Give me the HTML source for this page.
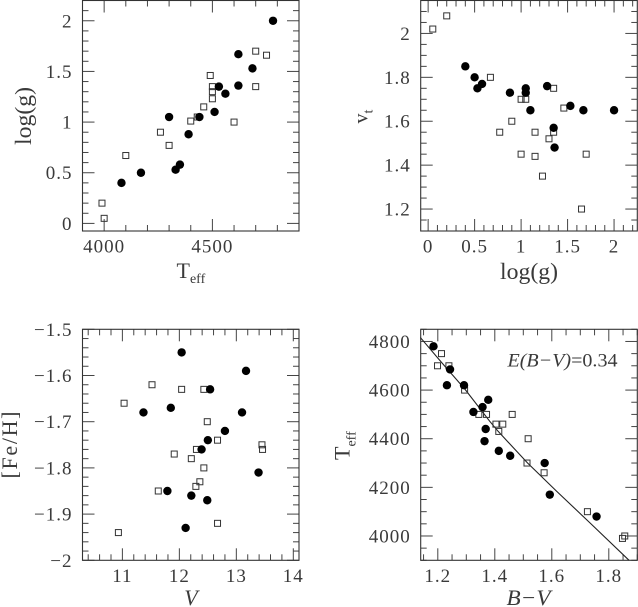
<!DOCTYPE html>
<html lang="en">
<head>
<meta charset="utf-8">
<title>Stellar parameter panels</title>
<style>
html,body{margin:0;padding:0;background:#fff;width:638px;height:607px;overflow:hidden}
svg{display:block;font-family:"Liberation Serif",serif;fill:#3a3a3a}
text{fill:#3a3a3a}
</style>
</head>
<body>
<svg id="figure" xmlns="http://www.w3.org/2000/svg" width="638" height="607" viewBox="0 0 638 607">
  <g id="panel-tl"></g>
  <g id="panel-tr"></g>
  <g id="panel-bl"></g>
  <g id="panel-br"></g>

  <text x="176.5" y="278" font-size="22">T<tspan dy="5" font-size="14">eff</tspan></text>
  <text transform="translate(31,116) rotate(-90)" text-anchor="middle" font-size="23" textLength="58" lengthAdjust="spacingAndGlyphs">log(g)</text>

  <text x="529" y="279" text-anchor="middle" font-size="23" textLength="58" lengthAdjust="spacingAndGlyphs">log(g)</text>
  <text transform="translate(367.7,123.5) rotate(-90)" font-size="20">v<tspan dy="5" font-size="14">t</tspan></text>

  <text x="191" y="605" text-anchor="middle" font-size="22" font-style="italic">V</text>
  <text transform="translate(17,445) rotate(-90)" text-anchor="middle" font-size="22" textLength="67">[Fe/H]</text>

  <text x="528.5" y="605" text-anchor="middle" font-size="22" font-style="italic" textLength="44" lengthAdjust="spacingAndGlyphs">B−V</text>
  <text transform="translate(349.3,460) rotate(-90)" font-size="22">T<tspan dy="6" font-size="14">eff</tspan></text>
  <text x="507.5" y="366.5" font-size="19" textLength="110" lengthAdjust="spacingAndGlyphs"><tspan font-style="italic">E(B−V)</tspan>=0.34</text>
</svg>

<script>
/* ---- Panel 1: Teff vs log(g) ---- */
const tlFilledX = [4080,4170,4330,4350,4390,4300,4440,4510,4530,4560,4620,4620,4685,4780];
const tlFilledY = [0.40,0.50,0.53,0.58,0.88,1.05,1.05,1.10,1.35,1.28,1.36,1.67,1.53,2.00];
const tlOpenX = [3990,4000,4100,4260,4300,4400,4430,4460,4490,4500,4500,4500,4600,4700,4700,4750];
const tlOpenY = [0.20,0.05,0.67,0.90,0.77,1.01,1.05,1.15,1.46,1.35,1.30,1.23,1.00,1.70,1.35,1.66];
const tlXTicks = [4000,4500];
const tlXLabels = ['4000','4500'];
const tlYTicks = [0,0.5,1,1.5,2];
const tlYLabels = ['0','0.5','1','1.5','2'];

/* ---- Panel 2: log(g) vs vt ---- */
const trFilledX = [0.40,0.50,0.53,0.58,0.88,1.05,1.05,1.10,1.28,1.35,1.36,1.53,1.67,2.00];
const trFilledY = [1.85,1.80,1.75,1.77,1.73,1.75,1.73,1.65,1.76,1.57,1.48,1.67,1.65,1.65];
const trOpenX = [0.05,0.20,0.67,0.77,0.90,1.00,1.05,1.00,1.15,1.15,1.23,1.30,1.35,1.35,1.46,1.65,1.70];
const trOpenY = [2.02,2.08,1.80,1.55,1.60,1.70,1.70,1.45,1.55,1.44,1.35,1.52,1.55,1.75,1.66,1.20,1.45];
const trXTicks = [0,0.5,1,1.5,2];
const trXLabels = ['0','0.5','1','1.5','2'];
const trYTicks = [1.2,1.4,1.6,1.8,2];
const trYLabels = ['1.2','1.4','1.6','1.8','2'];

/* ---- Panel 3: V vs [Fe/H] ---- */
const blFilledX = [12.04,13.17,12.54,11.85,11.37,13.10,12.80,12.50,12.39,13.39,11.79,12.21,12.49,12.11];
const blFilledY = [-1.55,-1.59,-1.63,-1.67,-1.68,-1.68,-1.72,-1.74,-1.76,-1.81,-1.85,-1.86,-1.87,-1.93];
const blOpenX = [11.52,12.04,12.43,11.03,12.49,12.67,13.45,13.46,12.30,11.91,12.21,12.43,12.36,12.29,11.63,12.67,10.93];
const blOpenY = [-1.62,-1.63,-1.63,-1.66,-1.70,-1.74,-1.75,-1.76,-1.76,-1.77,-1.78,-1.80,-1.83,-1.84,-1.85,-1.92,-1.94];
const blXTicks = [11,12,13,14];
const blXLabels = ['11','12','13','14'];
const blYTicks = [-2,-1.9,-1.8,-1.7,-1.6,-1.5];
const blYLabels = ['−2','−1.9','−1.8','−1.7','−1.6','−1.5'];

/* ---- Panel 4: B-V vs Teff ---- */
const brFilledX = [1.185,1.243,1.232,1.292,1.377,1.357,1.325,1.368,1.364,1.414,1.454,1.575,1.593,1.757];
const brFilledY = [4780,4685,4620,4620,4560,4530,4510,4440,4390,4350,4330,4300,4170,4080];
const brOpenX = [1.213,1.199,1.239,1.294,1.344,1.371,1.461,1.404,1.428,1.414,1.517,1.513,1.573,1.725,1.856,1.848];
const brOpenY = [4750,4700,4700,4600,4500,4500,4500,4460,4460,4430,4400,4300,4260,4100,4000,3990];
const brCurveX = [1.139,1.213,1.295,1.382,1.412,1.515,1.616,1.733,1.871];
const brCurveY = [4816,4714,4604,4472,4430,4300,4185,4055,3900];
const brXTicks = [1.2,1.4,1.6,1.8];
const brXLabels = ['1.2','1.4','1.6','1.8'];
const brYTicks = [4000,4200,4400,4600,4800];
const brYLabels = ['4000','4200','4400','4600','4800'];

const NS = 'http://www.w3.org/2000/svg';
const COL_LEFT = [82.5, 299];
const COL_RIGHT = [420.7, 637.3];
const ROW_TOP = [0.5, 231];
const ROW_BOTTOM = [329.3, 560.3];
const MAJOR_LEN = 12;
const MINOR_LEN = 6;

function linear(d0, d1, r0, r1) {
  return function (v) { return r0 + (v - d0) * (r1 - r0) / (d1 - d0); };
}

function make(tag, parent, attrs) {
  const el = document.createElementNS(NS, tag);
  Object.keys(attrs).forEach(function (k) { el.setAttribute(k, attrs[k]); });
  parent.appendChild(el);
  return el;
}

function drawPanel(cfg) {
  const g = document.getElementById(cfg.id);
  const sx = linear(cfg.xDomain[0], cfg.xDomain[1], cfg.xRange[0], cfg.xRange[1]);
  const sy = linear(cfg.yDomain[0], cfg.yDomain[1], cfg.yRange[1], cfg.yRange[0]);
  const top = cfg.yRange[0], bottom = cfg.yRange[1], left = cfg.xRange[0], right = cfg.xRange[1];

  function xTick(v, len) {
    const a = make('line', g, { x1: sx(v), x2: sx(v), y1: bottom, y2: bottom - len, stroke: '#444', 'stroke-width': 1 });
    
    
    const b = make('line', g, { x1: sx(v), x2: sx(v), y1: top, y2: top + len, stroke: '#444', 'stroke-width': 1 });
    
    
  }
  function yTick(v, len) {
    const a = make('line', g, { x1: left, x2: left + len, y1: sy(v), y2: sy(v), stroke: '#444', 'stroke-width': 1 });
    
    
    const b = make('line', g, { x1: right, x2: right - len, y1: sy(v), y2: sy(v), stroke: '#444', 'stroke-width': 1 });
    
    
  }

  const nx = Math.round((cfg.xDomain[1] - cfg.xDomain[0]) / cfg.xMinor);
  const xStart = Math.ceil(cfg.xDomain[0] / cfg.xMinor - 1e-6);
  for (let i = 0; i <= nx; i++) {
    const v = (xStart + i) * cfg.xMinor;
    if (v > cfg.xDomain[1] + 1e-9) break;
    const isMajor = cfg.xTicks.some(function (t) { return Math.abs(t - v) < 1e-6; }) || cfg.xExtraMajor(v);
    xTick(v, isMajor ? MAJOR_LEN : MINOR_LEN);
  }
  const ny = Math.round((cfg.yDomain[1] - cfg.yDomain[0]) / cfg.yMinor);
  const yStart = Math.ceil(cfg.yDomain[0] / cfg.yMinor - 1e-6);
  for (let i = 0; i <= ny; i++) {
    const v = (yStart + i) * cfg.yMinor;
    if (v > cfg.yDomain[1] + 1e-9) break;
    const isMajor = cfg.yTicks.some(function (t) { return Math.abs(t - v) < 1e-6; });
    yTick(v, isMajor ? MAJOR_LEN : MINOR_LEN);
  }

  const frame = make('rect', g, { x: left, y: top, width: right - left, height: bottom - top, fill: 'none', stroke: '#333', 'stroke-width': 1.1 });
  
  

  cfg.xTicks.forEach(function (v, i) {
    const t = make('text', g, { x: sx(v), y: bottom + 21.5, 'text-anchor': 'middle', 'font-size': 19, 'letter-spacing': 1 });
    
    
    t.textContent = cfg.xLabels[i];
  });
  cfg.yTicks.forEach(function (v, i) {
    const t = make('text', g, { x: left - 10, y: sy(v) + 6.5, 'text-anchor': 'end', 'font-size': 19, 'letter-spacing': 1 });
    
    
    t.textContent = cfg.yLabels[i];
  });

  if (cfg.curveX) {
    const pts = cfg.curveX.map(function (v, i) { return sx(v) + ',' + sy(cfg.curveY[i]); }).join(' ');
    const line = make('polyline', g, { points: pts, fill: 'none', stroke: '#222', 'stroke-width': 1.1 });
    
    
  }

  cfg.openX.forEach(function (v, i) {
    const s = make('rect', g, { x: sx(v) - 3, y: sy(cfg.openY[i]) - 3, width: 6, height: 6, fill: 'none', stroke: '#333', 'stroke-width': 1 });
    
    
  });
  cfg.filledX.forEach(function (v, i) {
    const c = make('circle', g, { cx: sx(v), cy: sy(cfg.filledY[i]), r: 4.2, fill: '#000' });
    
    
  });
}

function none() { return false; }

drawPanel({
  id: 'panel-tl', xRange: COL_LEFT, yRange: ROW_TOP,
  xDomain: [3900, 4900], yDomain: [-0.075, 2.2], xMinor: 100, yMinor: 0.1,
  xTicks: tlXTicks, xLabels: tlXLabels, yTicks: tlYTicks, yLabels: tlYLabels, xExtraMajor: none,
  filledX: tlFilledX, filledY: tlFilledY, openX: tlOpenX, openY: tlOpenY
});
drawPanel({
  id: 'panel-tr', xRange: COL_RIGHT, yRange: ROW_TOP,
  xDomain: [-0.08, 2.25], yDomain: [1.1, 2.15], xMinor: 0.1, yMinor: 0.05,
  xTicks: trXTicks, xLabels: trXLabels, yTicks: trYTicks, yLabels: trYLabels, xExtraMajor: none,
  filledX: trFilledX, filledY: trFilledY, openX: trOpenX, openY: trOpenY
});
drawPanel({
  id: 'panel-bl', xRange: COL_LEFT, yRange: ROW_BOTTOM,
  xDomain: [10.3, 14.1], yDomain: [-2, -1.5], xMinor: 0.2, yMinor: 0.02,
  xTicks: blXTicks, xLabels: blXLabels, yTicks: blYTicks, yLabels: blYLabels, xExtraMajor: none,
  filledX: blFilledX, filledY: blFilledY, openX: blOpenX, openY: blOpenY
});
drawPanel({
  id: 'panel-br', xRange: COL_RIGHT, yRange: ROW_BOTTOM,
  xDomain: [1.14, 1.9], yDomain: [3900, 4850], xMinor: 0.05, yMinor: 50,
  xTicks: brXTicks, xLabels: brXLabels, yTicks: brYTicks, yLabels: brYLabels, xExtraMajor: none,
  filledX: brFilledX, filledY: brFilledY, openX: brOpenX, openY: brOpenY,
  curveX: brCurveX, curveY: brCurveY
});
</script>
</body>
</html>
